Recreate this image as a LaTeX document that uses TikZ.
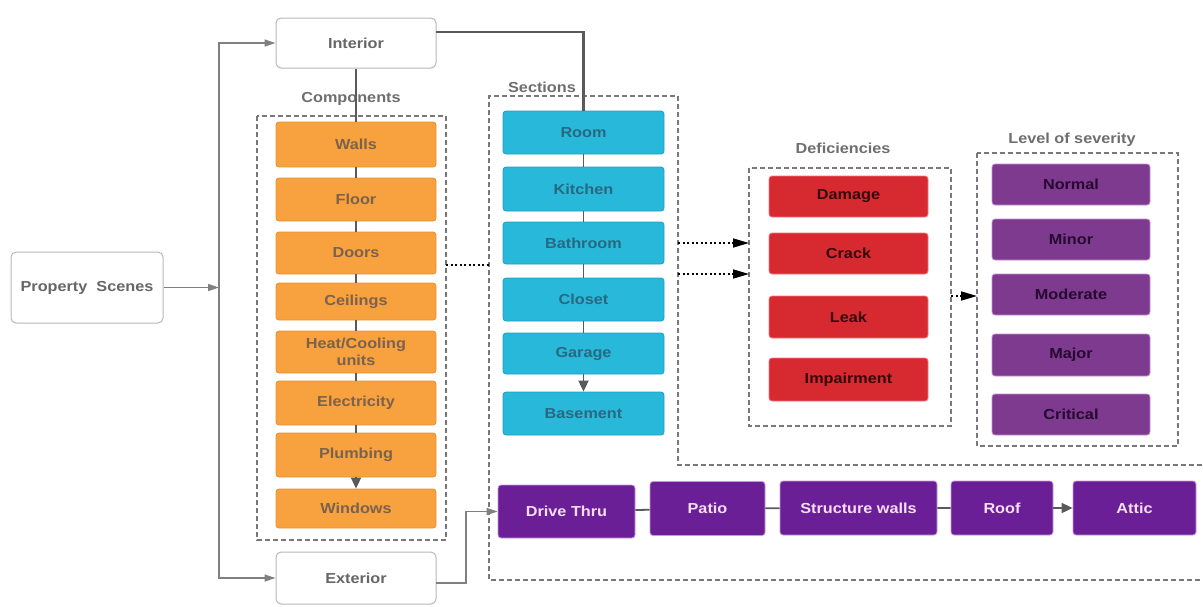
\documentclass[tikz,border=0pt]{standalone}
\usepackage{fontspec}
\setmainfont{Liberation Sans}[FakeStretch=1.12]
\usetikzlibrary{arrows.meta,positioning}
\definecolor{cOrange}{RGB}{248,161,63}
\definecolor{cOrangeB}{RGB}{232,144,47}
\definecolor{cOrangeT}{RGB}{122,98,76}
\definecolor{cBlue}{RGB}{40,184,217}
\definecolor{cBlueB}{RGB}{30,160,192}
\definecolor{cBlueT}{RGB}{40,105,130}
\definecolor{cRed}{RGB}{214,42,48}
\definecolor{cRedB}{RGB}{240,120,125}
\definecolor{cRedT}{RGB}{55,8,10}
\definecolor{cSev}{RGB}{125,58,142}
\definecolor{cSevB}{RGB}{200,140,210}
\definecolor{cSevT}{RGB}{38,8,48}
\definecolor{cExt}{RGB}{107,31,150}
\definecolor{cExtB}{RGB}{200,150,220}
\definecolor{cExtT}{RGB}{246,222,246}
\definecolor{cLabel}{RGB}{110,110,110}
\definecolor{cLine}{RGB}{90,90,90}
\definecolor{cDash}{RGB}{120,120,120}
\tikzset{
  txt/.style={font=\bfseries\fontsize{14.5}{16.5}\selectfont, align=center, inner sep=0pt},
  base/.style={txt, rounded corners=3pt, line width=0.8pt},
  wbox/.style={base, draw=black!28, fill=white, text=black!60, rounded corners=5pt, line width=1pt},
  obox/.style={base, draw=cOrangeB, fill=cOrange, text=cOrangeT, minimum width=160pt},
  bbox/.style={base, draw=cBlueB, fill=cBlue, text=cBlueT, minimum width=161pt},
  rbox/.style={base, draw=cRedB, fill=cRed, text=cRedT, minimum width=159pt},
  sbox/.style={base, draw=cSevB, fill=cSev, text=cSevT, minimum width=158pt},
  ebox/.style={base, draw=cExtB, fill=cExt, text=cExtT, minimum height=54pt},
  grouplabel/.style={txt, text=cLabel},
  dbox/.style={draw=cDash, line width=1.2pt, dash pattern=on 5pt off 3pt},
  gline/.style={draw=cLine, line width=1.8pt},
  garrow/.style={draw=black!50, line width=1.3pt, -{Triangle[length=11pt,width=7pt]}},
  carrow/.style={gline, -{Triangle[length=11pt,width=10pt]}},
  dotline/.style={draw=black, line width=1.6pt, dash pattern=on 2pt off 2.5pt},
  darrow/.style={dotline, -{Triangle[length=16pt,width=9pt,sep=0pt]}},
}
\begin{document}
\begin{tikzpicture}[x=1pt,y=-1pt]
\useasboundingbox (0,0) rectangle (1203,606);

% group frames
\draw[dbox] (257,116) rectangle (446,540);
\draw[dbox] (1210,465) -- (678,465) -- (678,96) -- (489,96) -- (489,580) -- (1210,580);
\draw[dbox] (749,168) rectangle (951,426);
\draw[dbox] (977,153) rectangle (1178,446);

% group labels
\node[grouplabel] (lcomp) at (351,99) {Components};
\node[grouplabel] (lsec) at (542,87) {Sections};
\node[grouplabel] (ldef) at (843,148) {Deficiencies};
\node[grouplabel] (llev) at (1072,140) {Level of severity};

% main boxes
\node[wbox, minimum width=152pt, minimum height=71pt] (prop) at (87,287.5) {Property\ \ Scenes};
\node[wbox, minimum width=160pt, minimum height=50pt] (interior) at (356,43) {Interior};
\node[wbox, minimum width=160pt, minimum height=52pt] (exterior) at (356,578) {Exterior};

% components
\node[obox, minimum height=45pt] (walls) at (356,144.5) {Walls};
\node[obox, minimum height=43pt] (floor) at (356,199.5) {Floor};
\node[obox, minimum height=42pt] (doors) at (356,253) {Doors};
\node[obox, minimum height=37pt] (ceil) at (356,301.5) {Ceilings};
\node[obox, minimum height=42pt] (heat) at (356,352) {Heat/Cooling\\units};
\node[obox, minimum height=44pt] (elec) at (356,403) {Electricity};
\node[obox, minimum height=44pt] (plumb) at (356,455) {Plumbing};
\node[obox, minimum height=39pt] (wind) at (356,508.5) {Windows};

% sections
\node[bbox, minimum height=43pt] (room) at (583.5,132.5) {Room};
\node[bbox, minimum height=44pt] (kitchen) at (583.5,189) {Kitchen};
\node[bbox, minimum height=42pt] (bath) at (583.5,243) {Bathroom};
\node[bbox, minimum height=43pt] (closet) at (583.5,299.5) {Closet};
\node[bbox, minimum height=41pt] (garage) at (583.5,353.5) {Garage};
\node[bbox, minimum height=43pt] (base) at (583.5,413.5) {Basement};

% deficiencies
\node[rbox, minimum height=41pt] (damage) at (848.5,196.5) {Damage};
\node[rbox, minimum height=41pt] (crack) at (848.5,253.5) {Crack};
\node[rbox, minimum height=42pt] (leak) at (848.5,317) {Leak};
\node[rbox, minimum height=43pt] (impair) at (848.5,379.5) {Impairment};

% severity
\node[sbox, minimum height=41pt] (normal) at (1071,184.5) {Normal};
\node[sbox, minimum height=41pt] (minor) at (1071,239.5) {Minor};
\node[sbox, minimum height=41pt] (moder) at (1071,294.5) {Moderate};
\node[sbox, minimum height=42pt] (major) at (1071,355) {Major};
\node[sbox, minimum height=41pt] (crit) at (1071,414.5) {Critical};

% exterior row
\node[ebox, minimum width=137pt, minimum height=53pt] (drive) at (566.5,511.5) {Drive Thru};
\node[ebox, minimum width=115pt] (patio) at (707.5,508.5) {Patio};
\node[ebox, minimum width=157pt] (struct) at (858.5,508) {Structure walls};
\node[ebox, minimum width=102pt] (roof) at (1002,508) {Roof};
\node[ebox, minimum width=123pt] (attic) at (1134.5,508) {Attic};

% helper coordinates
\coordinate (split) at (219,287.5);
\coordinate (ie) at (436,32);
\coordinate (compR) at (446,265);
\coordinate (secL) at (489,265);
\coordinate (secR1) at (678,243);
\coordinate (defL1) at (749,243);
\coordinate (secR2) at (678,274);
\coordinate (defL2) at (749,274);
\coordinate (defR) at (951,296);
\coordinate (levL) at (977,296);
\coordinate (exR) at (436,583);

% connectors
\draw[garrow] (prop.east) -- (split);
\draw[garrow] (split) |- (interior.west);
\draw[garrow] (split) |- (exterior.west);
\draw[gline] (interior.south) -- (walls.north);
\draw[gline, line width=2.2pt] (ie) -| (room.north);

\draw[gline] (walls) -- (floor) (floor) -- (doors) (doors) -- (ceil) (ceil) -- (heat) (heat) -- (elec) (elec) -- (plumb);
\draw[carrow] (plumb.south) -- (wind.north);

\draw[gline] (room) -- (kitchen) (kitchen) -- (bath) (bath) -- (closet) (closet) -- (garage);
\draw[carrow] (garage.south) -- (base.north);

\draw[gline] (drive) -- (patio) (patio) -- (struct) (struct) -- (roof);
\draw[carrow] (roof.east) -- (attic.west);

\draw[garrow] (exR) -- ++(30,0) |- (drive.west);

\draw[dotline] (compR) -- (secL);
\draw[darrow] (secR1) -- (defL1);
\draw[darrow] (secR2) -- (defL2);
\draw[darrow] (defR) -- (levL);
\end{tikzpicture}
\end{document}
